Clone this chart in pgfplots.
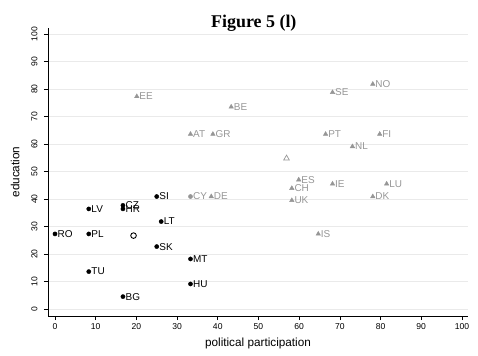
\documentclass[border=0pt]{standalone}
\usepackage{fontspec}
\setmainfont{Liberation Sans}
\newfontfamily\titlefont{Liberation Serif}
\usepackage{pgfplots}
\pgfplotsset{compat=1.18}
\definecolor{ptgray}{RGB}{150,150,150}
\definecolor{gridgray}{RGB}{234,234,234}
\begin{document}
\begin{tikzpicture}[x=1bp,y=1bp]
\useasboundingbox (-48,-39) rectangle (430,316);
\begin{axis}[
  at={(0,0)}, anchor=south west,
  scale only axis, width=420bp, height=288bp,
  xmin=-1.72, xmax=101.5, ymin=-2.55, ymax=102.2,
  axis x line*=bottom, axis y line*=left,
  axis line style={black, line width=0.6pt},
  tick align=outside, major tick length=4bp,
  tick style={black, line width=0.6pt},
  xtick={0,10,...,100}, ytick={0,10,...,100},
  ymajorgrids, grid style={gridgray, line width=0.7pt},
  tick label style={font=\fontsize{8.6}{9}\selectfont},
  /pgf/number format/assume math mode=true,
  yticklabel style={rotate=90, anchor=south},
  yticklabel shift=3bp,
  xlabel={political participation}, ylabel={education},
  label style={font=\fontsize{11.8}{12}\selectfont},
  xlabel style={yshift=-2bp},
  ylabel style={yshift=5bp},
  title={\titlefont\bfseries\fontsize{18}{19}\selectfont Figure 5 (l)},
  title style={at={(0.49,1)}, anchor=south, yshift=-13bp},
  clip=false,
  nodes near coords={\pgfplotspointmeta},
  point meta=explicit symbolic,
  every node near coord/.append style={anchor=west, xshift=1.5bp, font=\fontsize{10}{10}\selectfont, inner sep=1pt},
]
% black dots
\addplot[only marks, mark=*, mark size=2.1bp, black,
  every node near coord/.append style={text=black}]
  table[meta=label] {
x y label
0 27.3 RO
8.3 27.3 PL
8.3 36.4 LV
8.3 13.6 TU
16.7 37.7 CZ
16.7 36.4 HR
16.7 4.5 BG
25 40.9 SI
26.1 31.8 LT
25 22.7 SK
33.3 18.2 MT
33.3 9.1 HU
};
% open circle
\addplot[only marks, mark=o, mark size=2.8bp, black, line width=0.9pt, nodes near coords={}]
  table[meta=label] {
x y label
19.3 26.7 {}
};
% gray dot CY
\addplot[only marks, mark=*, mark size=2.1bp, ptgray,
  every node near coord/.append style={text=ptgray}]
  table[meta=label] {
x y label
33.3 40.9 CY
};
% gray triangles
\addplot[only marks, mark=triangle*, mark size=2.6bp, ptgray,
  every node near coord/.append style={text=ptgray}]
  table[meta=label] {
x y label
20.1 77.3 EE
43.3 73.5 BE
68.2 78.8 SE
78.1 81.8 NO
33.3 63.6 AT
38.8 63.6 GR
66.5 63.6 PT
79.8 63.6 FI
73.1 59.1 NL
59.9 47.0 ES
58.2 43.9 CH
58.2 39.5 UK
68.2 45.5 IE
81.5 45.5 LU
78.1 40.9 DK
64.7 27.3 IS
38.4 40.9 DE
};
% open triangle
\addplot[only marks, mark=triangle, mark size=3.2bp, ptgray, line width=0.7pt, nodes near coords={}]
  table[meta=label] {
x y label
56.9 54.8 {}
};
\end{axis}
\end{tikzpicture}
\end{document}
